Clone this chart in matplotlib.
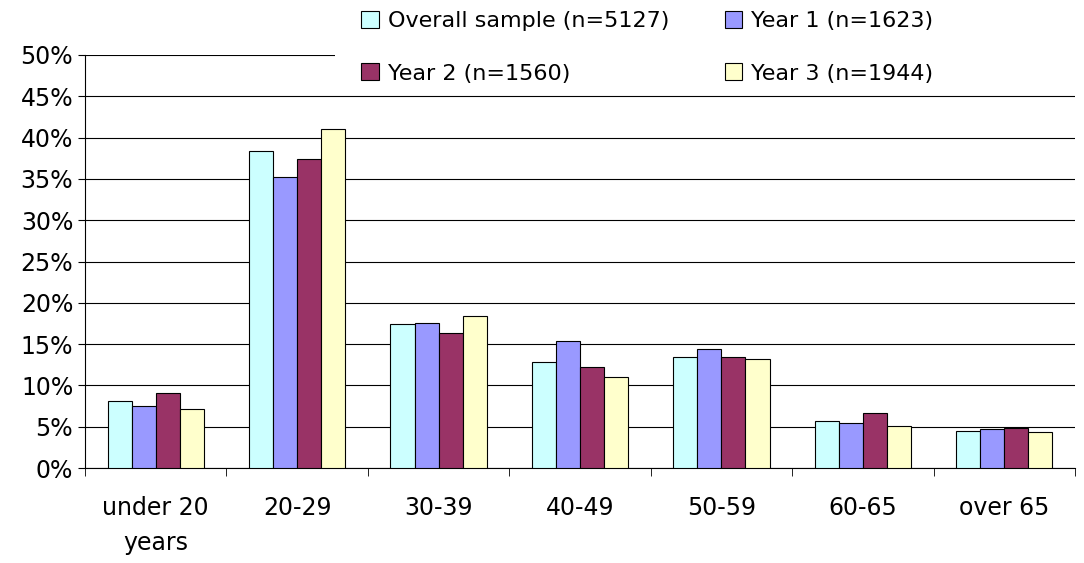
import matplotlib
matplotlib.use("Agg")
import matplotlib.pyplot as plt
import matplotlib.patches as mpatches
import numpy as np

categories = ["under 20\nyears", "20-29", "30-39", "40-49", "50-59", "60-65", "over 65"]
series_names = ["Overall sample (n=5127)", "Year 1 (n=1623)", "Year 2 (n=1560)", "Year 3 (n=1944)"]
overall = [8.1, 38.4, 17.4, 12.8, 13.4, 5.7, 4.5]
year1 = [7.5, 35.2, 17.6, 15.4, 14.4, 5.5, 4.7]
year2 = [9.1, 37.4, 16.4, 12.2, 13.4, 6.7, 4.9]
year3 = [7.1, 41.0, 18.4, 11.0, 13.2, 5.1, 4.3]
colors = ["#CCFFFF", "#9999FF", "#993366", "#FFFFCC"]

plt.rcParams['font.family'] = ['DejaVu Sans']
fig = plt.figure(figsize=(10.84, 5.63), dpi=100)
ax = fig.add_axes([85/1084, 1-468/563, 990/1084, 413/563])
x = np.arange(len(categories))
w = 0.17
handles = []
for i, (vals, name) in enumerate(zip([overall, year1, year2, year3], series_names)):
    handles.append(ax.bar(x + (i - 1.5) * w, vals, w, color=colors[i], edgecolor="black", linewidth=0.8, label=name, zorder=3))
ax.set_xlim(-0.5, len(categories) - 0.5)
ax.set_ylim(0, 50)
ax.set_yticks(np.arange(0, 51, 5))
ax.set_yticklabels([f"{v}%" for v in range(0, 51, 5)], fontsize=17)
ax.yaxis.grid(True, color="black", linewidth=0.8, zorder=0)
ax.set_xticks(x)
ax.set_xticklabels(categories, fontsize=17, linespacing=1.6)
ax.set_xticks(np.arange(-0.5, len(categories), 1), minor=True)
ax.tick_params(axis='x', which='major', length=0, pad=20)
ax.tick_params(axis='x', which='minor', length=6)
ax.tick_params(axis='y', length=5)
for s in ['top', 'right']:
    ax.spines[s].set_visible(False)
ax.add_patch(mpatches.Rectangle((0.253, 0.97), 0.76, 0.2, transform=ax.transAxes,
                                facecolor='white', edgecolor='none', zorder=4, clip_on=False))
order = [0, 2, 1, 3]
leg = ax.legend([handles[i] for i in order], [series_names[i] for i in order], ncol=2, loc='upper left',
                bbox_to_anchor=(0.272, 1.123), frameon=False,
                fontsize=16, handlelength=0.8, handleheight=0.8, columnspacing=2.5,
                borderaxespad=0, handletextpad=0.4, labelspacing=1.45, borderpad=0.3)
leg.set_zorder(5)
fig.savefig("out.png", dpi=100)
